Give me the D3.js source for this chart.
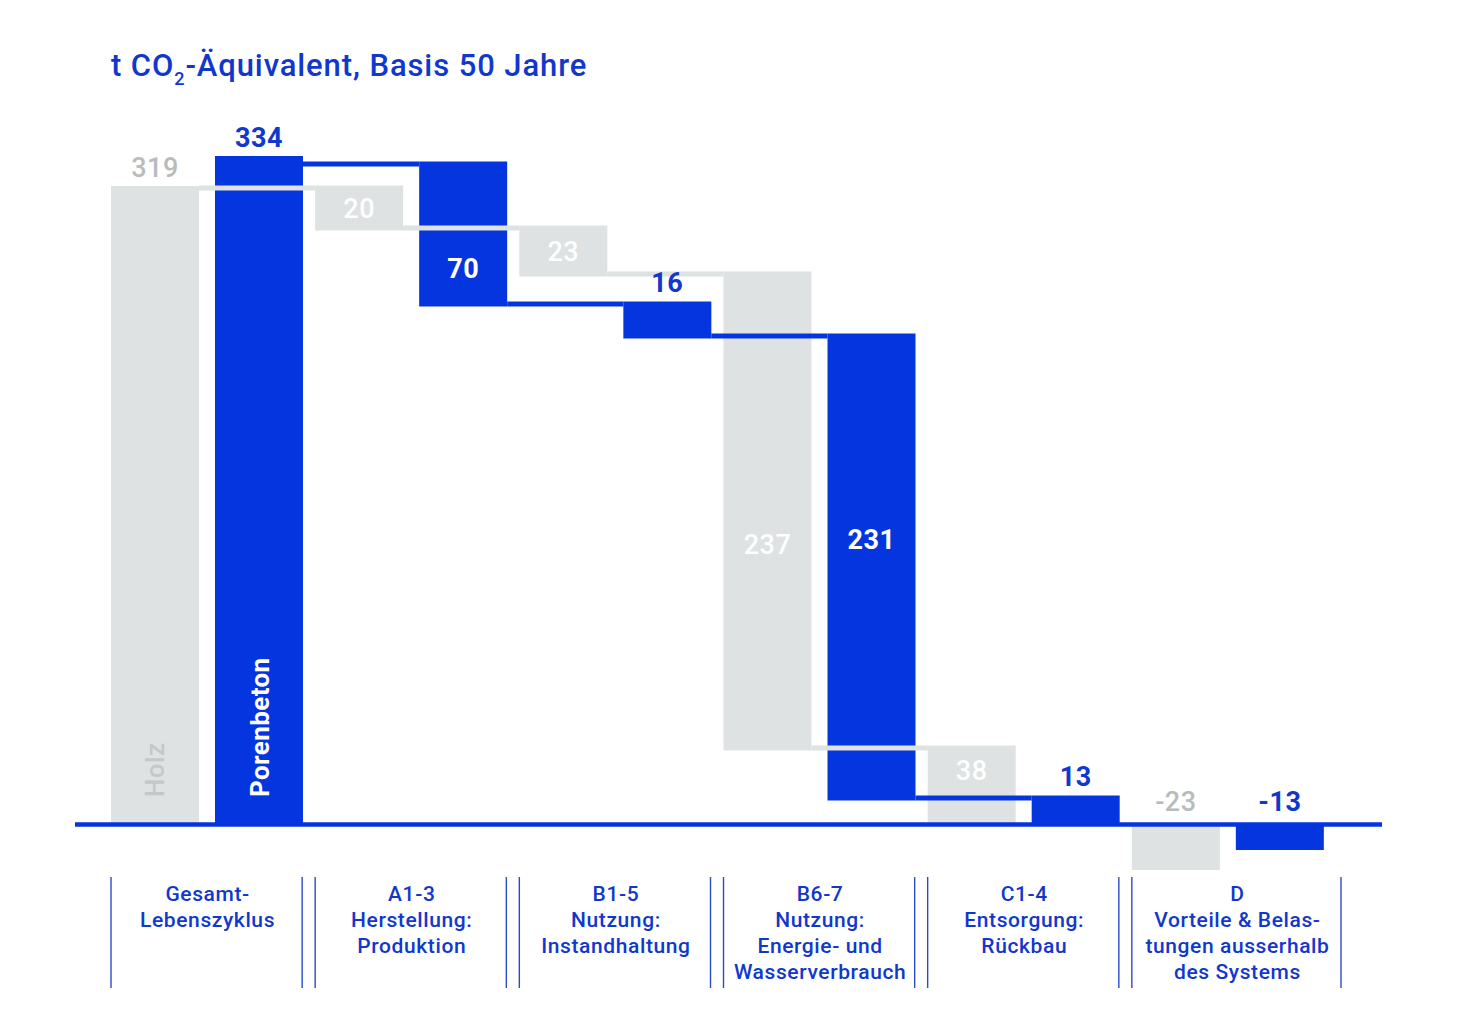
<!DOCTYPE html>
<html>
<head>
<meta charset="utf-8">
<script src="https://cdn.jsdelivr.net/npm/d3@7/dist/d3.min.js"></script>
<style>
  html, body { margin: 0; padding: 0; background: #ffffff; }
  svg { display: block; font-family: Roboto, "Noto Sans", "DejaVu Sans", sans-serif; }
</style>
</head>
<body>
<svg id="chart" width="1481" height="1030"></svg>
<script>
// ---------- data ----------
const categories = ["Gesamt", "A1-3", "B1-5", "B6-7", "C1-4", "D"];
const categoryLabels = [
  ["Gesamt-", "Lebenszyklus"],
  ["A1-3", "Herstellung:", "Produktion"],
  ["B1-5", "Nutzung:", "Instandhaltung"],
  ["B6-7", "Nutzung:", "Energie- und", "Wasserverbrauch"],
  ["C1-4", "Entsorgung:", "Rückbau"],
  ["D", "Vorteile & Belas-", "tungen ausserhalb", "des Systems"]
];
const categoryKinds = ["total", "step", "step", "step", "step", "external"];
const series = ["Holz", "Porenbeton"];
const holzValues = [319, 20, 23, 237, 38, -23];
const porenbetonValues = [334, 70, 16, 231, 13, -13];
const titleMain = "t CO";
const titleSub = "2";
const titleRest = "-Äquivalent, Basis 50 Jahre";

// ---------- styles ----------
const BLUE = "#0535df";
const BLUE_TEXT = "#1237cc";
const GREY = "#dee2e2";
const GREY_TEXT = "#b7bcbc";
const CONN = 5;

const svg = d3.select("#chart");

// ---------- scales ----------
const x0 = d3.scaleBand().domain(categories).range([111, 1336]).paddingInner(0).paddingOuter(0);
const groupWidth = 192;
const x1 = d3.scaleBand().domain(series).range([0, groupWidth]).paddingInner(0.154).paddingOuter(0);
const y = d3.scaleLinear().domain([0, 334]).range([824, 156]);
const bw = x1.bandwidth();

// ---------- waterfall geometry ----------
function buildSeries(name, values) {
  const out = [];
  values.forEach((v, i) => {
    const kind = categoryKinds[i];
    let start, end;
    if (kind === "total") { start = v; end = 0; }
    else if (kind === "step") {
      let rest = 0;
      for (let j = i + 1; j < values.length; j++) if (categoryKinds[j] === "step") rest += values[j];
      end = rest; start = rest + v;
    } else { start = 0; end = v; }
    out.push({ series: name, cat: categories[i], kind, value: v, start, end, idx: i });
  });
  return out;
}
const holz = buildSeries("Holz", holzValues);
const poren = buildSeries("Porenbeton", porenbetonValues);
const all = holz.concat(poren);

function barTop(d) {
  if (d.kind === "total") return y(d.start);
  if (d.kind === "step") return y(d.start) - CONN / 2;
  return y(0);
}
function barBottom(d) {
  if (d.kind === "total") return y(0);
  if (d.kind === "step") return d.end > 0 ? y(d.end) + CONN / 2 : y(0);
  return y(d.end);
}
const bx = d => x0(d.cat) + x1(d.series);
const color = d => d.series === "Holz" ? GREY : BLUE;

// ---------- bars ----------
svg.append("g").selectAll("rect").data(all).join("rect")
  .attr("x", bx)
  .attr("y", barTop)
  .attr("width", bw)
  .attr("height", d => barBottom(d) - barTop(d))
  .attr("fill", color);

// ---------- connectors ----------
const connectors = [];
[holz, poren].forEach(arr => {
  for (let i = 0; i < arr.length - 1; i++) {
    const a = arr[i], b = arr[i + 1];
    if (b.kind !== "step") continue;
    connectors.push({ series: a.series, x1: bx(a) + bw, x2: bx(b), level: b.start });
  }
});
svg.append("g").selectAll("rect").data(connectors).join("rect")
  .attr("x", d => d.x1)
  .attr("y", d => y(d.level) - CONN / 2)
  .attr("width", d => d.x2 - d.x1)
  .attr("height", CONN)
  .attr("fill", d => d.series === "Holz" ? GREY : BLUE);

// ---------- baseline ----------
svg.append("line")
  .attr("x1", 75).attr("x2", 1382)
  .attr("y1", y(0) + 0.5).attr("y2", y(0) + 0.5)
  .attr("stroke", BLUE).attr("stroke-width", 4.5);

// label centre inside a bar: middle of the largest part not crossed by another series' connector
function insideCenter(d) {
  const top = barTop(d), bot = barBottom(d);
  const cuts = connectors
    .filter(c => c.series !== d.series && c.x1 < bx(d) + bw && c.x2 > bx(d))
    .map(c => y(c.level))
    .filter(v => v > top && v < bot)
    .sort((a, b) => a - b);
  const edges = [top].concat(cuts.flatMap(v => [v - CONN / 2, v + CONN / 2])).concat([bot]);
  let best = [top, bot], len = -1;
  for (let k = 0; k < edges.length; k += 2) {
    if (edges[k + 1] - edges[k] > len) { len = edges[k + 1] - edges[k]; best = [edges[k], edges[k + 1]]; }
  }
  return (best[0] + best[1]) / 2;
}

// ---------- value labels ----------
const FS = 27;
svg.append("g").selectAll("text").data(all).join("text")
  .attr("x", d => bx(d) + bw / 2)
  .attr("y", d => {
    if (d.kind === "total") return y(d.start) - 9;
    if (d.kind === "external") return y(0) - 13;
    if (d.value >= 20) return insideCenter(d) + 9.5;
    return barTop(d) - 10;
  })
  .attr("text-anchor", "middle")
  .attr("font-size", FS)
  .attr("letter-spacing", 0.5)
  .attr("font-weight", d => d.series === "Holz" ? 500 : 700)
  .attr("fill", d => {
    const inside = d.kind === "step" && d.value >= 20;
    if (inside) return "#ffffff";
    return d.series === "Holz" ? GREY_TEXT : BLUE_TEXT;
  })
  .text(d => d3.format("d")(d.value).replace("−", "-"));

// ---------- series names inside total bars ----------
const totals = all.filter(d => d.kind === "total");
svg.append("g").selectAll("text").data(totals).join("text")
  .attr("transform", d => `translate(${bx(d) + bw / 2 + 9.5},${y(0) - 27}) rotate(-90)`)
  .attr("font-size", 26)
  .attr("letter-spacing", 0.4)
  .attr("font-weight", d => d.series === "Holz" ? 500 : 700)
  .attr("fill", d => d.series === "Holz" ? "#c3c8c8" : "#ffffff")
  .text(d => d.series);

// ---------- title ----------
const title = svg.append("text")
  .attr("x", 111).attr("y", 76)
  .attr("font-size", 31)
  .attr("font-weight", 500)
  .attr("letter-spacing", 0.9)
  .attr("fill", BLUE_TEXT);
title.append("tspan").text(titleMain);
title.append("tspan").attr("font-size", 18).attr("dy", 9).text(titleSub);
title.append("tspan").attr("dy", -9).text(titleRest);

// ---------- category separators and labels ----------
const sep = svg.append("g").attr("stroke", "#2c4cc4").attr("stroke-width", 1.4);
const catG = svg.append("g");
categories.forEach((c, i) => {
  const left = x0(c);
  const right = i < categories.length - 1 ? x0(categories[i + 1]) - 13 : x0.range()[1] + 5;
  [left, right].forEach(xx => {
    sep.append("line").attr("x1", xx).attr("x2", xx).attr("y1", 877).attr("y2", 988);
  });
  const cx = (left + right) / 2 + 1;
  const t = catG.append("text")
    .attr("x", cx)
    .attr("y", 901)
    .attr("text-anchor", "middle")
    .attr("font-size", 21)
    .attr("font-weight", 500)
    .attr("letter-spacing", 0.6)
    .attr("fill", BLUE_TEXT);
  categoryLabels[i].forEach((line, k) => {
    t.append("tspan").attr("x", cx).attr("y", 901 + k * 26).text(line);
  });
});
</script>
</body>
</html>
